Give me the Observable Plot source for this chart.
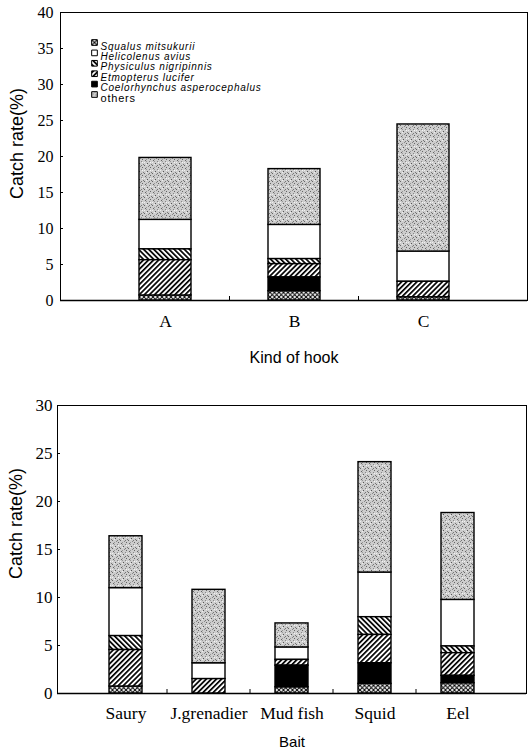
<!DOCTYPE html>
<html>
<head>
<meta charset="utf-8">
<script src="https://cdn.jsdelivr.net/npm/d3@7"></script>
<script src="https://cdn.jsdelivr.net/npm/@observablehq/plot@0.6"></script>
<style>
  body { margin: 0; background: #fff; }
  #wrap { position: relative; width: 528px; height: 754px; overflow: hidden; }
  #topChart { position: absolute; left: 0; top: 0; }
  #bottomChart { position: absolute; left: 0; top: 375px; }
  .legend-it text { letter-spacing: 0.75px; }
  .legend-plain text { letter-spacing: 0.8px; }
</style>
</head>
<body>
<svg width="0" height="0" style="position:absolute">
  <defs>
    <pattern id="p-cross" patternUnits="userSpaceOnUse" width="4.5" height="4.5">
      <rect width="4.5" height="4.5" fill="#fff"/>
      <path d="M0,0L4.5,4.5M4.5,0L0,4.5" stroke="#000" stroke-width="1"/>
    </pattern>
    <pattern id="p-fwd" patternUnits="userSpaceOnUse" width="3.6" height="3.6" patternTransform="rotate(45)">
      <rect width="3.6" height="3.6" fill="#fff"/>
      <rect width="1.7" height="3.6" fill="#000"/>
    </pattern>
    <pattern id="p-back" patternUnits="userSpaceOnUse" width="3.6" height="3.6" patternTransform="rotate(-45)">
      <rect width="3.6" height="3.6" fill="#fff"/>
      <rect width="1.7" height="3.6" fill="#000"/>
    </pattern>
    <pattern id="p-stip" patternUnits="userSpaceOnUse" width="8" height="8">
      <rect width="8" height="8" fill="#cdcdcd"/>
      <rect x="1" y="0" width="1" height="1" fill="#666"/>
      <rect x="5" y="1" width="1" height="1" fill="#888"/>
      <rect x="3" y="3" width="1" height="1" fill="#555"/>
      <rect x="7" y="4" width="1" height="1" fill="#777"/>
      <rect x="0" y="5" width="1" height="1" fill="#666"/>
      <rect x="4" y="6" width="1" height="1" fill="#888"/>
      <rect x="6" y="7" width="1" height="1" fill="#666"/>
      <rect x="2" y="7" width="1" height="1" fill="#999"/>
      <rect x="2" y="1" width="1" height="1" fill="#999"/>
      <rect x="5" y="5" width="1" height="1" fill="#777"/>
      <rect x="6" y="2" width="1" height="1" fill="#f4f4f4"/>
      <rect x="2" y="4" width="1" height="1" fill="#eee"/>
      <rect x="0" y="2" width="1" height="1" fill="#eee"/>
    </pattern>
  </defs>
</svg>
<div id="wrap">
  <div id="topChart"></div>
  <div id="bottomChart"></div>
</div>
<script>
// ---- Data ----
const species = ["Squalus mitsukurii", "Helicolenus avius", "Physiculus nigripinnis",
                 "Etmopterus lucifer", "Coelorhynchus asperocephalus", "others"];
// stacking order, bottom to top
const stackOrder = ["Squalus mitsukurii", "Coelorhynchus asperocephalus", "Etmopterus lucifer",
                    "Physiculus nigripinnis", "Helicolenus avius", "others"];
const speciesFill = ["url(#p-cross)", "#ffffff", "url(#p-back)", "url(#p-fwd)", "#000000", "url(#p-stip)"];

const hooks = ["A", "B", "C"];
const squalusHook       = [0.7, 1.3, 0.45];
const helicolenusHook   = [4.1, 4.75, 4.2];
const physiculusHook    = [1.5, 0.7, 0];
const etmopterusHook    = [4.9, 1.85, 2.15];
const coelorhynchusHook = [0, 1.9, 0];
const othersHook        = [8.6, 7.75, 17.65];

const baits = ["Saury", "J.grenadier", "Mud fish", "Squid", "Eel"];
const squalusBait       = [0.73, 0, 0.65, 1.0, 1.07];
const helicolenusBait   = [5.0, 1.65, 1.3, 4.65, 4.85];
const physiculusBait    = [1.45, 0, 0, 1.85, 0.7];
const etmopterusBait    = [3.8, 1.5, 0.6, 2.95, 2.36];
const coelorhynchusBait = [0, 0, 2.25, 2.15, 0.77];
const othersBait        = [5.4, 7.65, 2.5, 11.5, 9.05];

const yTicksTop = [0, 5, 10, 15, 20, 25, 30, 35, 40];
const yTicksBottom = [0, 5, 10, 15, 20, 25, 30];

function longForm(cats, series) {
  const out = [];
  cats.forEach((c, i) => {
    species.forEach((s, j) => {
      const v = series[j][i];
      if (v > 0) out.push({cat: c, species: s, value: v});
    });
  });
  return out;
}
const hookData = longForm(hooks, [squalusHook, helicolenusHook, physiculusHook, etmopterusHook, coelorhynchusHook, othersHook]);
const baitData = longForm(baits, [squalusBait, helicolenusBait, physiculusBait, etmopterusBait, coelorhynchusBait, othersBait]);

const SANS = "'Liberation Sans', Arial, sans-serif";
const SERIF = "'Liberation Serif', 'Times New Roman', serif";
const colorScale = {type: "ordinal", domain: species, range: speciesFill};

function legendMarks() {
  const marks = [];
  species.forEach((s, i) => {
    marks.push(Plot.dot([s], {frameAnchor: "top-left", dx: 34, dy: 30 + i * 10.4, symbol: "square", r: 3.2,
      fill: d => d, stroke: "#000", strokeWidth: 1}));
    marks.push(Plot.text([s], {frameAnchor: "top-left", dx: 40, dy: 30 + i * 10.4, text: d => d,
      textAnchor: "start", fontStyle: s === "others" ? "normal" : "italic",
      fontSize: s === "others" ? 11 : 10, fill: "#000", fontFamily: SANS,
      className: s === "others" ? "legend-plain" : "legend-it"}));
  });
  return marks;
}

// small upward ticks at the boundaries between category bands, derived from the x scale
function bandTicks(cats) {
  return (index, scales, values, dims) => {
    const g = d3.create("svg:g");
    const x = scales.x;
    const step = x(cats[1]) - x(cats[0]);
    let bw = typeof x.bandwidth === "function" ? x.bandwidth() : x.bandwidth;
    if (!(bw >= 0)) bw = 0.4 * step;
    const y0 = dims.height - dims.marginBottom;
    for (let i = 0; i < cats.length - 1; i++) {
      const bx = (x(cats[i]) + x(cats[i + 1])) / 2 + bw / 2;
      g.append("line").attr("x1", bx).attr("x2", bx).attr("y1", y0).attr("y2", y0 - 4)
        .attr("stroke", "#000").attr("stroke-width", 1);
    }
    return g.node();
  };
}

const chartTop = Plot.plot({
  width: 528, height: 375,
  marginLeft: 60, marginRight: 1, marginTop: 12, marginBottom: 75,
  style: {fontFamily: SANS, background: "#fff", color: "#000"},
  x: {domain: hooks, padding: 0.6, label: null},
  y: {domain: [0, 40], label: null},
  color: colorScale,
  marks: [
    Plot.frame({stroke: "#000", strokeWidth: 1}),
    Plot.barY(hookData, Plot.stackY({order: stackOrder}, {x: "cat", y: "value", fill: "species", z: "species", stroke: "#000", strokeWidth: 1.4})),
    Plot.axisY({ticks: yTicksTop, tickSize: -3, tickPadding: 10, fontFamily: SERIF, fontSize: 16, label: null}),
    Plot.axisX({tickSize: 0, tickPadding: 14, fontFamily: SERIF, fontSize: 17.5, label: null}),
    Plot.ruleY([0], {stroke: "#000", strokeWidth: 1.5}),
    bandTicks(hooks),
    Plot.text(["Kind of hook"], {frameAnchor: "bottom", dy: 57, text: d => d, fontSize: 16, lineAnchor: "middle", fontFamily: SANS}),
    Plot.text(["Catch rate(%)"], {frameAnchor: "left", dx: -43, dy: -13, rotate: -90, text: d => d, fontSize: 18, textAnchor: "middle", lineAnchor: "middle", fontFamily: SANS}),
    ...legendMarks()
  ]
});
document.getElementById("topChart").appendChild(chartTop);

const chartBottom = Plot.plot({
  width: 528, height: 379,
  marginLeft: 57, marginRight: 2, marginTop: 30, marginBottom: 61,
  style: {fontFamily: SANS, background: "#fff", color: "#000"},
  x: {domain: baits, padding: 0.6, label: null},
  y: {domain: [0, 30], label: null},
  color: colorScale,
  marks: [
    Plot.frame({stroke: "#000", strokeWidth: 1}),
    Plot.barY(baitData, Plot.stackY({order: stackOrder}, {x: "cat", y: "value", fill: "species", z: "species", stroke: "#000", strokeWidth: 1.4})),
    Plot.axisY({ticks: yTicksBottom, tickSize: -3, tickPadding: 8, fontFamily: SERIF, fontSize: 17, label: null}),
    Plot.axisX({tickSize: 0, tickPadding: 13, fontFamily: SERIF, fontSize: 17.5, label: null}),
    Plot.ruleY([0], {stroke: "#000", strokeWidth: 1.5}),
    bandTicks(baits),
    Plot.text(["Bait"], {frameAnchor: "bottom", dy: 49, text: d => d, fontSize: 15, lineAnchor: "middle", fontFamily: SANS}),
    Plot.text(["Catch rate(%)"], {frameAnchor: "left", dx: -41, dy: -26, rotate: -90, text: d => d, fontSize: 18, textAnchor: "middle", lineAnchor: "middle", fontFamily: SANS})
  ]
});
document.getElementById("bottomChart").appendChild(chartBottom);
</script>
</body>
</html>
